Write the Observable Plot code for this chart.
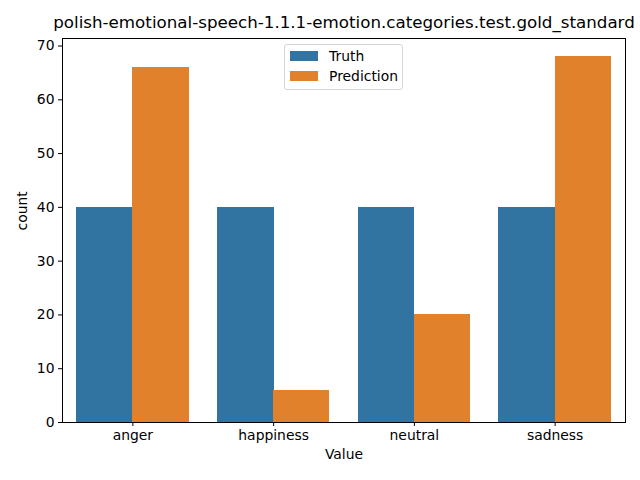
<!DOCTYPE html>
<html>
<head>
<meta charset="utf-8">
<script src="https://cdn.jsdelivr.net/npm/d3@7"></script>
<script src="https://cdn.jsdelivr.net/npm/@observablehq/plot@0.6"></script>
<style>
  html, body { margin: 0; padding: 0; background: #fff; }
  #wrap { position: relative; width: 640px; height: 480px; font-family: "DejaVu Sans", sans-serif; }
  .legend { position: absolute; left: 284px; top: 44px; width: 119px; height: 46px;
    border: 1px solid #d6d6d6; border-radius: 3px; background: rgba(255,255,255,0.8); box-sizing: border-box; }
  .item { position: absolute; left: 5px; display: flex; align-items: center; font-size: 13.9px; color: #000; }
  .sw { width: 28px; height: 10px; margin-right: 11px; }
</style>
</head>
<body>
<div id="wrap"></div>
<script>
const title = "polish-emotional-speech-1.1.1-emotion.categories.test.gold_standard";
const categories = ["anger", "happiness", "neutral", "sadness"];
const series = ["Truth", "Prediction"];
const truthValues = [40, 40, 40, 40];
const predictionValues = [66, 6, 20, 68];
const colors = ["#3274a1", "#e1812c"];
const yTicks = [0, 10, 20, 30, 40, 50, 60, 70];
const xLabel = "Value";
const yLabel = "count";

const truth = categories.map((c, i) => ({category: c, series: "Truth", value: truthValues[i]}));
const pred = categories.map((c, i) => ({category: c, series: "Prediction", value: predictionValues[i]}));

const W = 640, H = 480, mL = 62, mR = 15, mT = 38, mB = 58;
const step = (W - mL - mR) / categories.length;
const half = step * 0.8 / 2;

const chart = Plot.plot({
  width: W, height: H,
  marginLeft: mL, marginRight: mR, marginTop: mT, marginBottom: mB,
  style: {fontFamily: "DejaVu Sans, sans-serif", fontSize: "13.9px", color: "#000", background: "#fff", overflow: "visible"},
  x: {type: "band", domain: categories, padding: 0.2, paddingOuter: 0.1, round: false, label: null},
  y: {domain: [0, 71.4], label: null},
  color: {domain: series, range: colors},
  marks: [
    Plot.barY(truth, {x: "category", y: "value", fill: "series", insetLeft: 0, insetRight: half - 0.5, shapeRendering: "crispEdges"}),
    Plot.barY(pred, {x: "category", y: "value", fill: "series", insetLeft: half, insetRight: 0, shapeRendering: "crispEdges"}),
    Plot.frame({stroke: "#000", strokeWidth: 1}),
    Plot.axisX({tickSize: 4, tickPadding: 4, fontSize: 13.9, label: null}),
    Plot.axisY({ticks: yTicks, tickSize: 4, tickPadding: 4, fontSize: 13.9, label: null, tickFormat: d => String(d)}),
    Plot.text([yLabel], {text: d => d, frameAnchor: "left", dx: -40, rotate: -90, fontSize: 13.9, fill: "#000"}),
    Plot.text([xLabel], {text: d => d, frameAnchor: "bottom", dy: 36, fontSize: 13.9, fill: "#000"}),
    Plot.text([title], {text: d => d, frameAnchor: "top", dy: -22, fontSize: 16.7, fill: "#000"})
  ]
});
const wrap = document.getElementById("wrap");
wrap.appendChild(chart);

const leg = document.createElement("div");
leg.className = "legend";
series.forEach((s, i) => {
  const it = document.createElement("div");
  it.className = "item";
  it.style.top = (i === 0 ? 3 : 23) + "px";
  const sw = document.createElement("span");
  sw.className = "sw";
  sw.style.background = colors[i];
  const t = document.createElement("span");
  t.textContent = s;
  it.appendChild(sw); it.appendChild(t);
  leg.appendChild(it);
});
wrap.appendChild(leg);
</script>
</body>
</html>
